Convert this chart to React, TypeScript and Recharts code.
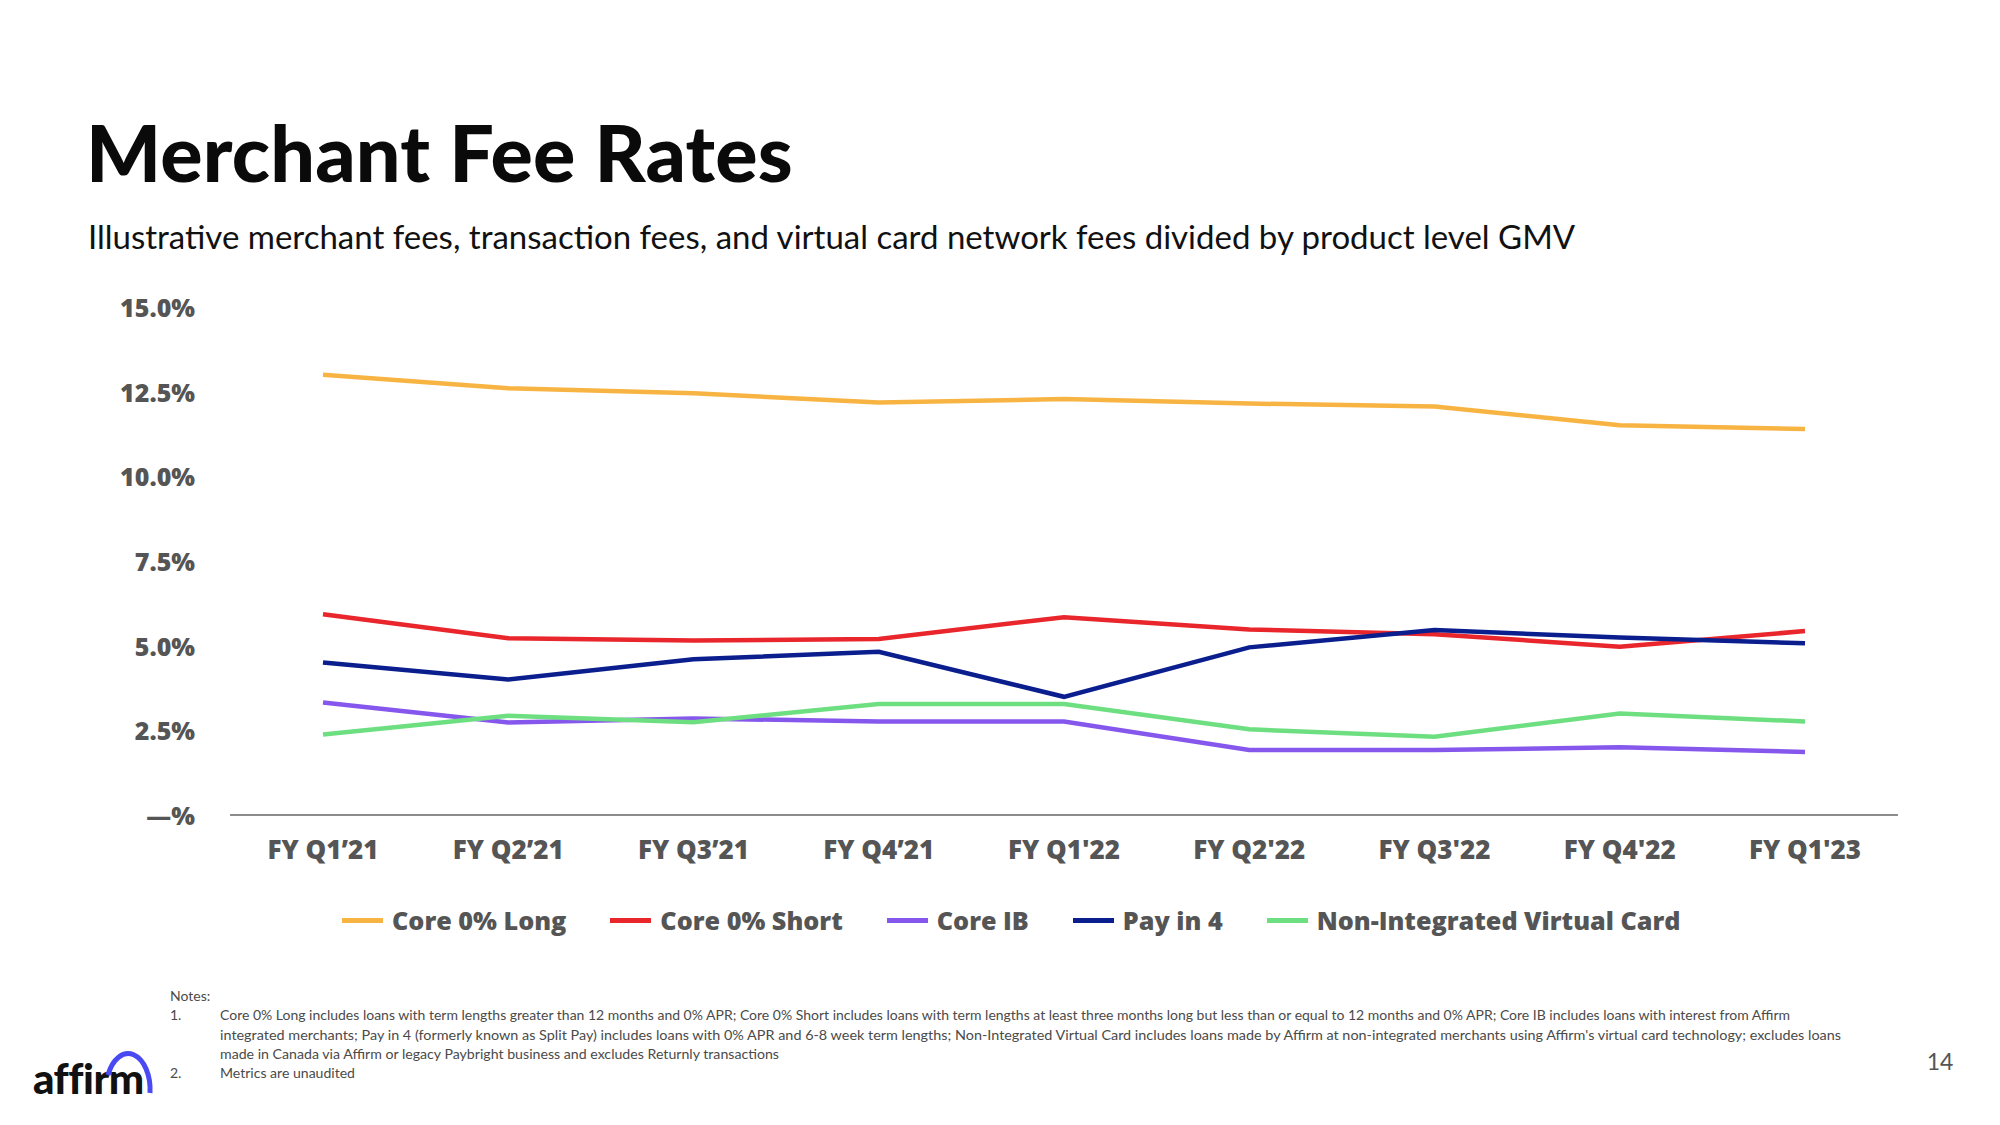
import React from "react";
import { LineChart, Line, XAxis, YAxis, Legend } from "recharts";

const quarters = [
  "FY Q1’21",
  "FY Q2’21",
  "FY Q3’21",
  "FY Q4’21",
  "FY Q1'22",
  "FY Q2'22",
  "FY Q3'22",
  "FY Q4'22",
  "FY Q1'23",
];
const core0Long = [13.0, 12.6, 12.45, 12.18, 12.28, 12.15, 12.06, 11.51, 11.4];
const core0Short = [5.93, 5.22, 5.15, 5.2, 5.84, 5.48, 5.34, 4.97, 5.43];
const coreIB = [3.32, 2.73, 2.85, 2.76, 2.76, 1.92, 1.92, 2.0, 1.86];
const payIn4 = [4.5, 4.0, 4.6, 4.82, 3.49, 4.95, 5.46, 5.24, 5.07];
const nonIntVC = [2.38, 2.93, 2.74, 3.28, 3.28, 2.53, 2.31, 3.0, 2.76];
const yTicks = [0, 2.5, 5, 7.5, 10, 12.5, 15];

const series = [
  { key: "long", name: "Core 0% Long", color: "#F8B443", values: core0Long },
  { key: "short", name: "Core 0% Short", color: "#E8262B", values: core0Short },
  { key: "ib", name: "Core IB", color: "#8657EC", values: coreIB },
  { key: "pay4", name: "Pay in 4", color: "#0B1E8E", values: payIn4 },
  { key: "vc", name: "Non-Integrated Virtual Card", color: "#6EDF80", values: nonIntVC },
];

const data = quarters.map((q, i) => {
  const row: any = { quarter: q };
  series.forEach((s) => (row[s.key] = s.values[i]));
  return row;
});

const notes = [
  "Core 0% Long includes loans with term lengths greater than 12 months and 0% APR; Core 0% Short includes loans with term lengths at least three months long but less than or equal to 12 months and 0% APR; Core IB includes loans with interest from Affirm",
  "integrated merchants; Pay in 4 (formerly known as Split Pay) includes loans with 0% APR and 6-8 week term lengths; Non-Integrated Virtual Card includes loans made by Affirm at non-integrated merchants using Affirm's virtual card technology; excludes loans",
  "made in Canada via Affirm or legacy Paybright business and excludes Returnly transactions",
  "Metrics are unaudited",
];
const noteWidths = [1570, 1621, 559, 135];

const HEAVY = "'Open Sans', sans-serif";
const LABEL = "#555555";

const YTick = ({ x, y, payload }: any) => (
  <text
    x={x}
    y={y}
    textAnchor="end"
    dominantBaseline="central"
    fontFamily={HEAVY}
    fontWeight={800}
    fontSize={25}
    fill={LABEL}
  >
    {payload.value === 0 ? "—%" : `${payload.value.toFixed(1)}%`}
  </text>
);

const XTick = ({ x, y, payload }: any) => (
  <text
    x={x}
    y={y}
    dy={34}
    textAnchor="middle"
    dominantBaseline="central"
    fontFamily={HEAVY}
    fontWeight={800}
    fontSize={26}
    fill={LABEL}
  >
    {payload.value}
  </text>
);

const LegendContent = () => (
  <div style={{ display: "flex", alignItems: "center", whiteSpace: "nowrap" }}>
    {series.map((s, i) => (
      <div
        key={s.key}
        style={{ display: "flex", alignItems: "center", marginLeft: i === 0 ? 0 : 44 }}
      >
        <div style={{ width: 41, height: 5, background: s.color, marginRight: 9 }} />
        <span
          style={{
            fontFamily: HEAVY,
            fontWeight: 800,
            fontSize: 25.2,
            color: LABEL,
          }}
        >
          {s.name}
        </span>
      </div>
    ))}
  </div>
);

export default function App() {
  return (
    <div
      style={{
        position: "fixed",
        left: 0,
        top: 0,
        width: 2000,
        height: 1125,
        background: "#fff",
        overflow: "hidden",
      }}
    >
      <div
        style={{
          position: "absolute",
          left: 86,
          top: 107,
          fontFamily: "Lato, sans-serif",
          fontWeight: 900,
          fontSize: 79,
          color: "#0a0a0a",
          letterSpacing: 0.2,
          lineHeight: "90px",
        }}
      >
        Merchant Fee Rates
      </div>
      <div
        style={{
          position: "absolute",
          left: 88,
          top: 216,
          fontFamily: "Lato, sans-serif",
          fontWeight: 400,
          fontSize: 33,
          color: "#111",
          lineHeight: "40px",
        }}
      >
        Illustrative merchant fees, transaction fees, and virtual card network fees divided by
        product level GMV
      </div>

      <div style={{ position: "absolute", left: 0, top: 0 }}>
        <LineChart
          width={2000}
          height={880}
          data={data}
          margin={{ top: 307, right: 102, left: 0, bottom: 15 }}
        >
          <XAxis
            dataKey="quarter"
            height={50}
            padding={{ left: 93, right: 93 }}
            axisLine={{ stroke: "#8c8c8c", strokeWidth: 2 }}
            tickLine={false}
            tickSize={0}
            tickMargin={0}
            interval={0}
            tick={<XTick />}
          />
          <YAxis
            width={230}
            domain={[0, 15]}
            ticks={yTicks}
            axisLine={false}
            tickLine={false}
            tickSize={0}
            tickMargin={35}
            tick={<YTick />}
          />
          <Legend
            layout="horizontal"
            verticalAlign="middle"
            align="center"
            wrapperStyle={{ left: 342, top: 903, width: "auto" }}
            content={<LegendContent />}
          />
          {series.map((s) => (
            <Line
              key={s.key}
              type="linear"
              dataKey={s.key}
              name={s.name}
              stroke={s.color}
              strokeWidth={4.5}
              dot={false}
              activeDot={false}
              isAnimationActive={false}
            />
          ))}
        </LineChart>
      </div>

      <svg
        width={2000}
        height={1125}
        style={{ position: "absolute", left: 0, top: 0, pointerEvents: "none" }}
      >
        <g fontFamily="Lato, sans-serif" fontSize={14} fill="#4a4a4a">
          <text x={170} y={1001}>Notes:</text>
          <text x={170} y={1020}>1.</text>
          <text x={170} y={1078}>2.</text>
          {notes.map((n, i) => (
            <text
              key={i}
              x={220}
              y={1020 + (i === 3 ? 58 : i * 19.5)}
              textLength={noteWidths[i]}
              lengthAdjust="spacingAndGlyphs"
            >
              {n}
            </text>
          ))}
        </g>
        <text
          x={1940}
          y={1070}
          textAnchor="middle"
          fontFamily="Lato, sans-serif"
          fontSize={23}
          fill="#555"
        >
          14
        </text>
        <text
          x={33}
          y={1094}
          fontFamily="Lato, sans-serif"
          fontWeight={900}
          fontSize={42}
          fill="#111"
          letterSpacing={-0.5}
        >
          affirm
        </text>
        <path
          d="M 108 1075 A 22 36 0 0 1 150 1093"
          fill="none"
          stroke="#4A4AF4"
          strokeWidth={5}
        />
      </svg>
    </div>
  );
}
